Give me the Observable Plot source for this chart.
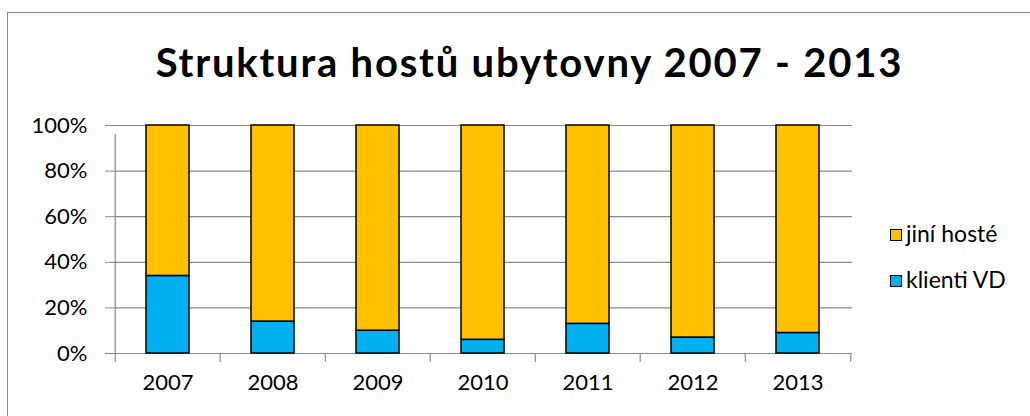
<!DOCTYPE html>
<html><head><meta charset="utf-8">
<script src="https://cdn.jsdelivr.net/npm/d3@7"></script>
<script src="https://cdn.jsdelivr.net/npm/@observablehq/plot@0.6"></script>
<style>
body{margin:0;background:#fff;font-family:Lato,"Open Sans",sans-serif;}
#wrap{position:relative;width:1030px;height:416px;overflow:hidden;}
#border{position:absolute;left:7px;top:12px;width:1040px;height:420px;border:1px solid #888;box-sizing:border-box;}
#title{position:absolute;left:0;top:38px;width:1059px;text-align:center;font-weight:bold;font-size:40px;line-height:48px;letter-spacing:1.8px;color:#000;white-space:nowrap;}
#chart{position:absolute;left:0;top:110px;}
.leg{position:absolute;left:890px;font-size:23px;line-height:28px;color:#000;display:flex;align-items:center;white-space:nowrap;}
.leg span.sw{display:inline-block;width:10px;height:10px;border:1.5px solid #000;margin-right:4px;margin-top:3px;}
</style></head>
<body>
<div id="wrap">
<div id="border"></div>
<div id="title">Struktura hostů ubytovny 2007 - 2013</div>
<div id="chart"></div>
<div id="legend"></div>
</div>
<script>
const years = ["2007","2008","2009","2010","2011","2012","2013"];
const klientiVD = [34, 14, 10, 6, 13, 7, 9];
const jiniHoste = [66, 86, 90, 94, 87, 93, 91];
const seriesNames = ["klienti VD", "jiní hosté"];
const seriesColors = ["#00B0F0", "#FFC000"];
const yTicks = [0, 20, 40, 60, 80, 100];

const rows = [];
years.forEach((y, i) => rows.push({year: y, series: seriesNames[0], value: klientiVD[i]}));
years.forEach((y, i) => rows.push({year: y, series: seriesNames[1], value: jiniHoste[i]}));

const W = 870, H = 300, mL = 113, mR = 18, mT = 15, mB = 57;
const step = (W - mL - mR) / years.length;
const grid = "#8a8a8a";

const chart = Plot.plot({
  width: W, height: H,
  marginLeft: mL, marginRight: mR, marginTop: mT, marginBottom: mB,
  style: {fontFamily: "Lato, 'Open Sans', sans-serif", fontSize: "22px", color: "#000", background: "transparent", overflow: "visible"},
  x: {domain: years, paddingInner: 0.59, paddingOuter: 0.295, label: null},
  y: {domain: [0, 100], label: null},
  color: {domain: seriesNames, range: seriesColors},
  marks: [
    Plot.ruleY(yTicks, {stroke: grid, strokeWidth: 1.2}),
    Plot.ruleX(years, {dx: -step / 2, y1: 0, y2: 100, stroke: grid, strokeWidth: 1.2, insetBottom: -9, filter: (d, i) => i === 0}),
    Plot.ruleX(years, {dx: -step / 2, y1: 0, y2: 0, stroke: grid, strokeWidth: 1.2, insetBottom: -9}),
    Plot.ruleX(years.slice(-1), {dx: step / 2, y1: 0, y2: 0, stroke: grid, strokeWidth: 1.2, insetBottom: -9}),
    Plot.axisY({ticks: yTicks, tickFormat: d => d + "%", tickSize: 8, tickPadding: 18, stroke: grid, fill: "#000", fontSize: 22, label: null}),
    Plot.axisX({tickSize: 0, tickPadding: 21, fill: "#000", fontSize: 22, label: null}),
    Plot.barY(rows, {x: "year", y: "value", fill: "series", stroke: "#000", strokeWidth: 1.5})
  ]
});
document.getElementById("chart").appendChild(chart);

const legend = document.getElementById("legend");
const legTops = {"jiní hosté": 219, "klienti VD": 265};
["jiní hosté", "klienti VD"].forEach(name => {
  const d = document.createElement("div");
  d.className = "leg";
  d.style.top = legTops[name] + "px";
  const sw = document.createElement("span");
  sw.className = "sw";
  sw.style.background = seriesColors[seriesNames.indexOf(name)];
  d.appendChild(sw);
  d.appendChild(document.createTextNode(name));
  legend.appendChild(d);
});
</script>
</body></html>
